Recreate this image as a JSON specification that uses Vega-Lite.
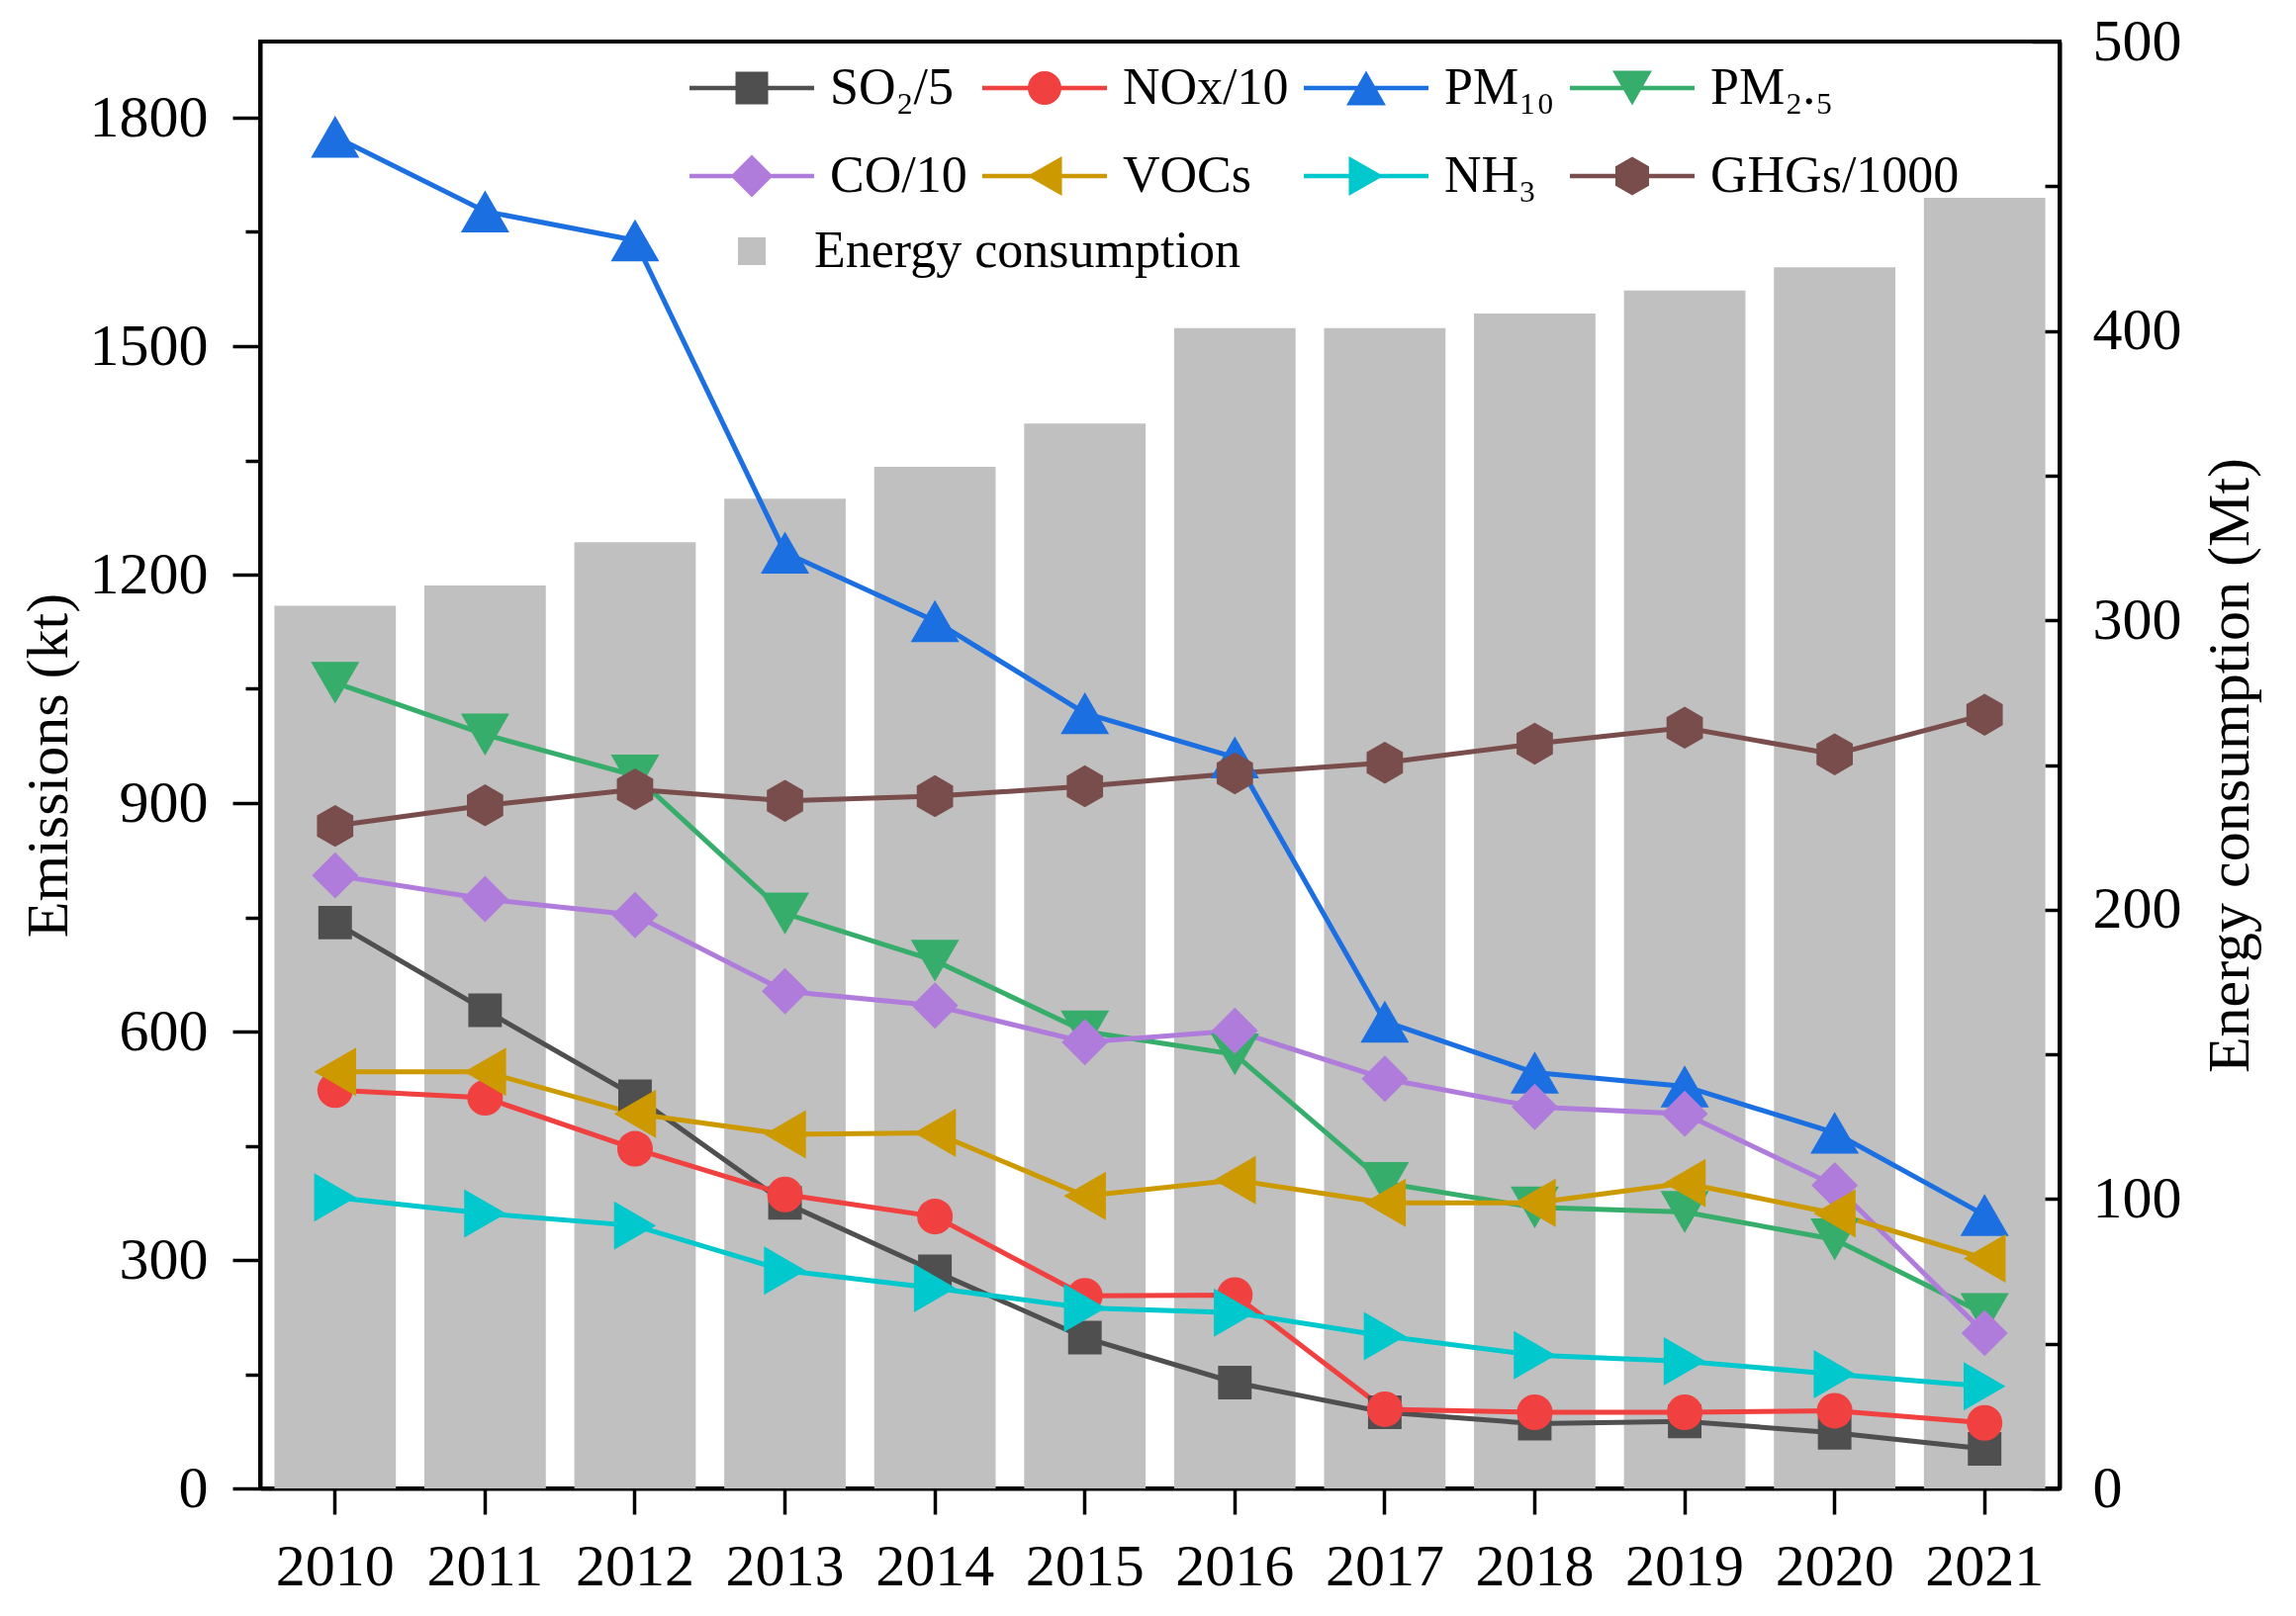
{
  "$schema": "https://vega.github.io/schema/vega-lite/v6.json",
  "width": 1819,
  "height": 1463,
  "autosize": {"type": "none"},
  "padding": {"left": 263, "top": 42, "right": 239, "bottom": 129},
  "background": "white",
  "config": {
    "view": {"stroke": "black", "strokeWidth": 4},
    "font": "Liberation Serif",
    "axis": {
      "labelFont": "Liberation Serif", "titleFont": "Liberation Serif",
      "labelColor": "black", "titleColor": "black",
      "labelFontSize": 60, "titleFontSize": 60, "titleFontWeight": "normal",
      "domainColor": "black", "domainWidth": 4,
      "tickColor": "black", "tickWidth": 3.5, "grid": false
    },
    "legend": {"labelFont": "Liberation Serif", "labelColor": "black", "padding": 0, "labelLimit": 0}
  },
  "datasets": {
    "energy": [
      {"year": "2010", "energy": 305}, {"year": "2011", "energy": 312}, {"year": "2012", "energy": 327},
      {"year": "2013", "energy": 342}, {"year": "2014", "energy": 353}, {"year": "2015", "energy": 368},
      {"year": "2016", "energy": 401}, {"year": "2017", "energy": 401}, {"year": "2018", "energy": 406},
      {"year": "2019", "energy": 414}, {"year": "2020", "energy": 422}, {"year": "2021", "energy": 446}
    ],
    "emissions": [
      {"series": "SO₂/5", "year": "2010", "value": 743}, {"series": "SO₂/5", "year": "2011", "value": 628},
      {"series": "SO₂/5", "year": "2012", "value": 515}, {"series": "SO₂/5", "year": "2013", "value": 375},
      {"series": "SO₂/5", "year": "2014", "value": 285}, {"series": "SO₂/5", "year": "2015", "value": 198},
      {"series": "SO₂/5", "year": "2016", "value": 139}, {"series": "SO₂/5", "year": "2017", "value": 100},
      {"series": "SO₂/5", "year": "2018", "value": 85}, {"series": "SO₂/5", "year": "2019", "value": 88},
      {"series": "SO₂/5", "year": "2020", "value": 73}, {"series": "SO₂/5", "year": "2021", "value": 52},
      {"series": "NOx/10", "year": "2010", "value": 523}, {"series": "NOx/10", "year": "2011", "value": 513},
      {"series": "NOx/10", "year": "2012", "value": 446}, {"series": "NOx/10", "year": "2013", "value": 386},
      {"series": "NOx/10", "year": "2014", "value": 357}, {"series": "NOx/10", "year": "2015", "value": 253},
      {"series": "NOx/10", "year": "2016", "value": 254}, {"series": "NOx/10", "year": "2017", "value": 104},
      {"series": "NOx/10", "year": "2018", "value": 100}, {"series": "NOx/10", "year": "2019", "value": 100},
      {"series": "NOx/10", "year": "2020", "value": 102}, {"series": "NOx/10", "year": "2021", "value": 86},
      {"series": "PM₁₀", "year": "2010", "value": 1775}, {"series": "PM₁₀", "year": "2011", "value": 1677},
      {"series": "PM₁₀", "year": "2012", "value": 1639}, {"series": "PM₁₀", "year": "2013", "value": 1229},
      {"series": "PM₁₀", "year": "2014", "value": 1139}, {"series": "PM₁₀", "year": "2015", "value": 1018},
      {"series": "PM₁₀", "year": "2016", "value": 960}, {"series": "PM₁₀", "year": "2017", "value": 613},
      {"series": "PM₁₀", "year": "2018", "value": 546}, {"series": "PM₁₀", "year": "2019", "value": 528},
      {"series": "PM₁₀", "year": "2020", "value": 467}, {"series": "PM₁₀", "year": "2021", "value": 359},
      {"series": "PM₂.₅", "year": "2010", "value": 1058}, {"series": "PM₂.₅", "year": "2011", "value": 990},
      {"series": "PM₂.₅", "year": "2012", "value": 936}, {"series": "PM₂.₅", "year": "2013", "value": 755},
      {"series": "PM₂.₅", "year": "2014", "value": 693}, {"series": "PM₂.₅", "year": "2015", "value": 600},
      {"series": "PM₂.₅", "year": "2016", "value": 570}, {"series": "PM₂.₅", "year": "2017", "value": 401},
      {"series": "PM₂.₅", "year": "2018", "value": 369}, {"series": "PM₂.₅", "year": "2019", "value": 363},
      {"series": "PM₂.₅", "year": "2020", "value": 327}, {"series": "PM₂.₅", "year": "2021", "value": 229},
      {"series": "CO/10", "year": "2010", "value": 805}, {"series": "CO/10", "year": "2011", "value": 774},
      {"series": "CO/10", "year": "2012", "value": 753}, {"series": "CO/10", "year": "2013", "value": 653},
      {"series": "CO/10", "year": "2014", "value": 634}, {"series": "CO/10", "year": "2015", "value": 586},
      {"series": "CO/10", "year": "2016", "value": 601}, {"series": "CO/10", "year": "2017", "value": 538},
      {"series": "CO/10", "year": "2018", "value": 501}, {"series": "CO/10", "year": "2019", "value": 492},
      {"series": "CO/10", "year": "2020", "value": 398}, {"series": "CO/10", "year": "2021", "value": 204},
      {"series": "VOCs", "year": "2010", "value": 547}, {"series": "VOCs", "year": "2011", "value": 547},
      {"series": "VOCs", "year": "2012", "value": 492}, {"series": "VOCs", "year": "2013", "value": 465},
      {"series": "VOCs", "year": "2014", "value": 467}, {"series": "VOCs", "year": "2015", "value": 384},
      {"series": "VOCs", "year": "2016", "value": 405}, {"series": "VOCs", "year": "2017", "value": 375},
      {"series": "VOCs", "year": "2018", "value": 375}, {"series": "VOCs", "year": "2019", "value": 401},
      {"series": "VOCs", "year": "2020", "value": 361}, {"series": "VOCs", "year": "2021", "value": 302},
      {"series": "NH₃", "year": "2010", "value": 382}, {"series": "NH₃", "year": "2011", "value": 361},
      {"series": "NH₃", "year": "2012", "value": 345}, {"series": "NH₃", "year": "2013", "value": 286},
      {"series": "NH₃", "year": "2014", "value": 263}, {"series": "NH₃", "year": "2015", "value": 237},
      {"series": "NH₃", "year": "2016", "value": 231}, {"series": "NH₃", "year": "2017", "value": 200},
      {"series": "NH₃", "year": "2018", "value": 175}, {"series": "NH₃", "year": "2019", "value": 167},
      {"series": "NH₃", "year": "2020", "value": 150}, {"series": "NH₃", "year": "2021", "value": 134},
      {"series": "GHGs/1000", "year": "2010", "value": 870}, {"series": "GHGs/1000", "year": "2011", "value": 897},
      {"series": "GHGs/1000", "year": "2012", "value": 918}, {"series": "GHGs/1000", "year": "2013", "value": 903},
      {"series": "GHGs/1000", "year": "2014", "value": 909}, {"series": "GHGs/1000", "year": "2015", "value": 922},
      {"series": "GHGs/1000", "year": "2016", "value": 939}, {"series": "GHGs/1000", "year": "2017", "value": 953},
      {"series": "GHGs/1000", "year": "2018", "value": 978}, {"series": "GHGs/1000", "year": "2019", "value": 999},
      {"series": "GHGs/1000", "year": "2020", "value": 964}, {"series": "GHGs/1000", "year": "2021", "value": 1016}
    ]
  },
  "layer": [
    {
      "data": {"name": "energy"},
      "mark": {"type": "bar"},
      "encoding": {
        "x": {"field": "year", "type": "ordinal", "scale": {"paddingInner": 0.19, "paddingOuter": 0.095},
              "axis": {"title": null, "labelAngle": 0, "tickSize": 26, "labelPadding": 24}},
        "y": {"field": "energy", "type": "quantitative", "scale": {"domain": [0, 500], "nice": false},
              "axis": {"orient": "right", "title": "Energy consumption (Mt)",
                       "values": [0, 50, 100, 150, 200, 250, 300, 350, 400, 450, 500],
                       "labelExpr": "datum.value % 100 === 0 ? datum.label : ''",
                       "tickSize": {"condition": {"test": "datum.value % 100 === 0", "value": -28}, "value": -15},
                       "labelPadding": 61, "labelAlign": "left",
                       "titleAngle": 270, "titleBaseline": "top", "titlePadding": 20}},
        "fill": {"datum": "Energy consumption", "type": "nominal", "scale": {"range": ["#c0c0c0"]},
                 "legend": {"title": null, "orient": "none", "legendX": 471, "legendY": 186,
                            "symbolType": "square", "symbolSize": 784, "symbolStrokeWidth": 0,
                            "labelFontSize": 52, "labelOffset": 37, "symbolOpacity": 1}}
      }
    },
    {
      "data": {"name": "emissions"},
      "encoding": {
        "x": {"field": "year", "type": "ordinal", "scale": {"paddingInner": 0.19, "paddingOuter": 0.095},
              "axis": {"title": null, "labelAngle": 0, "tickSize": 26, "labelPadding": 24}},
        "y": {"field": "value", "type": "quantitative", "scale": {"domain": [0, 1900], "nice": false},
              "axis": {"orient": "left", "title": "Emissions (kt)", "format": "d",
                       "values": [0, 150, 300, 450, 600, 750, 900, 1050, 1200, 1350, 1500, 1650, 1800],
                       "labelExpr": "datum.value % 300 === 0 ? datum.label : ''",
                       "tickSize": {"condition": {"test": "datum.value % 300 === 0", "value": 28}, "value": 15},
                       "labelPadding": 25, "titlePadding": 10}}
      },
      "layer": [
        {
          "transform": [{"filter": "false"}],
          "mark": {"type": "point", "filled": true, "opacity": 1, "fillOpacity": 1},
          "encoding": {
            "color": {"field": "series", "type": "nominal",
                      "scale": {"domain": ["SO₂/5", "NOx/10", "PM₁₀", "PM₂.₅", "CO/10", "VOCs", "NH₃", "GHGs/1000"],
                                "range": ["#4f4f4f", "#f04040", "#1b6fe0", "#37ad6b", "#b07cdc", "#cc9900", "#00c8cc", "#7a4d4d"]},
                      "legend": {"title": null, "orient": "none", "legendX": 434, "legendY": -16, "columns": 4,
                                 "direction": "horizontal",
                                 "symbolStrokeWidth": 0, "symbolOpacity": 1,
                                 "labelFontSize": 52, "labelOffset": 16, "columnPadding": 15, "rowPadding": -21}},
            "shape": {"field": "series", "type": "nominal",
                      "scale": {"domain": ["SO₂/5", "NOx/10", "PM₁₀", "PM₂.₅", "CO/10", "VOCs", "NH₃", "GHGs/1000"],
                                "range": [
                                  "M-1,-0.036H1V0.036H-1ZM-0.262,-0.262H0.262V0.262H-0.262Z",
                                  "M-1,-0.036H1V0.036H-1ZM0.27,0A0.27,0.27,0,1,1,-0.27,0A0.27,0.27,0,1,1,0.27,0Z",
                                  "M-1,-0.036H1V0.036H-1ZM0,-0.278L0.317,0.278L-0.317,0.278Z",
                                  "M-1,-0.036H1V0.036H-1ZM0,0.278L-0.317,-0.278L0.317,-0.278Z",
                                  "M-1,-0.036H1V0.036H-1ZM0,-0.34L0.34,0L0,0.34L-0.34,0Z",
                                  "M-1,-0.036H1V0.036H-1ZM-0.278,0L0.278,-0.317L0.278,0.317Z",
                                  "M-1,-0.036H1V0.036H-1ZM0.278,0L-0.278,0.317L-0.278,-0.317Z",
                                  "M-1,-0.036H1V0.036H-1ZM0,-0.31L0.27,-0.155L0.27,0.155L0,0.31L-0.27,0.155L-0.27,-0.155Z"]}},
            "size": {"field": "series", "type": "ordinal",
                     "scale": {"domain": ["SO₂/5", "NOx/10", "PM₁₀", "PM₂.₅", "CO/10", "VOCs", "NH₃", "GHGs/1000"],
                               "range": [15876, 15876, 15876, 15876, 15876, 15876, 15876, 15876]}}
          }
        },
        {
          "mark": {"type": "line", "strokeWidth": 5},
          "encoding": {
            "detail": {"field": "series"},
            "color": {"condition": [
                        {"test": "datum.series === 'SO₂/5'", "value": "#4f4f4f"},
                        {"test": "datum.series === 'NOx/10'", "value": "#f04040"},
                        {"test": "datum.series === 'PM₁₀'", "value": "#1b6fe0"},
                        {"test": "datum.series === 'PM₂.₅'", "value": "#37ad6b"},
                        {"test": "datum.series === 'CO/10'", "value": "#b07cdc"},
                        {"test": "datum.series === 'VOCs'", "value": "#cc9900"},
                        {"test": "datum.series === 'NH₃'", "value": "#00c8cc"}],
                      "value": "#7a4d4d"}
          }
        },
        {
          "mark": {"type": "point", "filled": true, "opacity": 1, "strokeWidth": 0},
          "encoding": {
            "color": {"condition": [
                        {"test": "datum.series === 'SO₂/5'", "value": "#4f4f4f"},
                        {"test": "datum.series === 'NOx/10'", "value": "#f04040"},
                        {"test": "datum.series === 'PM₁₀'", "value": "#1b6fe0"},
                        {"test": "datum.series === 'PM₂.₅'", "value": "#37ad6b"},
                        {"test": "datum.series === 'CO/10'", "value": "#b07cdc"},
                        {"test": "datum.series === 'VOCs'", "value": "#cc9900"},
                        {"test": "datum.series === 'NH₃'", "value": "#00c8cc"}],
                      "value": "#7a4d4d"},
            "shape": {"condition": [
                        {"test": "datum.series === 'SO₂/5'", "value": "square"},
                        {"test": "datum.series === 'NOx/10'", "value": "circle"},
                        {"test": "datum.series === 'PM₁₀'", "value": "triangle-up"},
                        {"test": "datum.series === 'PM₂.₅'", "value": "triangle-down"},
                        {"test": "datum.series === 'CO/10'", "value": "diamond"},
                        {"test": "datum.series === 'VOCs'", "value": "triangle-left"},
                        {"test": "datum.series === 'NH₃'", "value": "triangle-right"}],
                      "value": "M0,-1L0.866,-0.5L0.866,0.5L0,1L-0.866,0.5L-0.866,-0.5Z"},
            "size": {"condition": [
                        {"test": "datum.series === 'SO₂/5'", "value": 1150},
                        {"test": "datum.series === 'NOx/10'", "value": 1300},
                        {"test": "datum.series === 'CO/10'", "value": 2200},
                        {"test": "datum.series === 'GHGs/1000'", "value": 1800}],
                     "value": 2400}
          }
        }
      ]
    }
  ],
  "resolve": {"scale": {"y": "independent"}}
}
